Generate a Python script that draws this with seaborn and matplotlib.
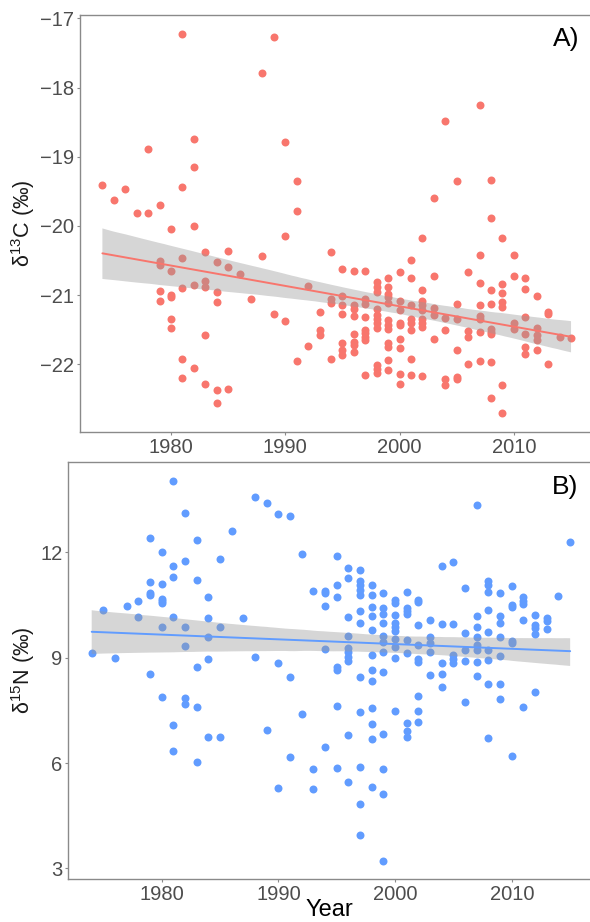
import numpy as np
import pandas as pd
import matplotlib
matplotlib.use("Agg")
import matplotlib.pyplot as plt
from matplotlib.collections import PolyCollection
import seaborn as sns

# ---------------- data ----------------
years = list(range(1974, 2016))

d13c_by_year = [
    [-19.41], [-19.62], [-19.47], [-19.82], [-19.82, -18.89],
    [-19.70, -20.51, -20.57, -20.94, -21.09],
    [-20.04, -20.65, -21.00, -21.03, -21.34, -21.48],
    [-17.22, -19.43, -20.46, -20.90, -21.93, -22.20],
    [-18.75, -19.15, -20.00, -20.86, -22.05],
    [-20.37, -20.79, -20.88, -21.58, -22.29],
    [-20.52, -20.96, -21.10, -22.37, -22.56],
    [-20.36, -20.60, -22.36],
    [-20.69],
    [-21.05],
    [-17.79, -20.43],
    [-17.27, -21.27],
    [-18.78, -20.15, -21.37],
    [-19.35, -19.79, -21.96],
    [-20.87, -21.74],
    [-21.25, -21.50, -21.58],
    [-20.37, -21.06, -21.12, -21.93],
    [-20.62, -21.01, -21.14, -21.28, -21.70, -21.80, -21.87],
    [-20.65, -21.14, -21.20, -21.30, -21.56, -21.68, -21.72, -21.82],
    [-20.65, -21.06, -21.13, -21.32, -21.50, -21.55, -21.60, -21.65, -22.15],
    [-20.81, -20.88, -20.95, -21.20, -21.29, -21.34, -21.41, -21.48, -22.01, -22.07, -22.12],
    [-20.75, -20.88, -20.99, -21.03, -21.11, -21.36, -21.43, -21.49, -21.70, -21.75, -21.94, -22.08],
    [-20.66, -21.09, -21.22, -21.40, -21.43, -21.63, -21.77, -22.14, -22.28],
    [-20.49, -20.76, -21.15, -21.35, -21.41, -21.50, -21.93, -22.15],
    [-20.17, -20.93, -21.08, -21.15, -21.21, -21.35, -21.41, -21.46, -22.17],
    [-19.59, -20.72, -21.19, -21.29, -21.64],
    [-18.48, -21.33, -21.50, -22.22, -22.30],
    [-19.35, -21.13, -21.35, -21.80, -22.18, -22.22],
    [-20.67, -21.52, -21.60, -21.99],
    [-18.25, -20.42, -20.82, -21.15, -21.30, -21.35, -21.54, -21.95],
    [-19.34, -19.89, -20.92, -21.13, -21.49, -21.53, -21.57, -21.97, -22.49],
    [-20.17, -20.84, -20.97, -21.10, -21.17, -22.30, -22.71],
    [-20.42, -20.73, -21.40, -21.49],
    [-20.75, -20.91, -21.31, -21.57, -21.75, -21.85],
    [-21.01, -21.48, -21.58, -21.65, -21.79],
    [-21.24, -21.28, -22.00],
    [-21.60],
    [-21.62],
]

d15n_by_year = [
    [9.14], [10.35], [8.98], [10.48], [10.62, 10.15],
    [12.42, 11.14, 10.84, 10.77, 8.54],
    [12.00, 11.11, 10.67, 10.62, 10.56, 9.87, 7.89],
    [14.04, 11.60, 11.29, 10.17, 7.09, 6.33],
    [13.12, 11.75, 9.88, 9.33, 7.84, 7.68],
    [12.34, 11.22, 8.74, 7.59, 6.02],
    [10.74, 10.14, 9.58, 8.95, 6.75],
    [11.81, 9.88, 6.75],
    [12.60],
    [10.13],
    [13.56, 9.02],
    [13.41, 6.94],
    [13.09, 8.85, 5.30],
    [13.03, 8.46, 6.16],
    [11.96, 7.40],
    [10.91, 5.84, 5.25],
    [10.91, 10.84, 10.48, 9.24, 6.47],
    [11.90, 11.07, 10.74, 8.73, 8.65, 7.63, 5.86],
    [11.55, 11.28, 10.17, 9.62, 9.27, 9.15, 9.03, 8.91, 6.80, 5.47],
    [11.50, 11.17, 11.06, 10.93, 10.79, 10.34, 9.98, 8.44, 7.45, 5.89, 4.83, 3.95],
    [11.07, 10.79, 10.45, 10.20, 9.79, 9.08, 8.66, 8.34, 7.56, 7.10, 6.69, 5.33],
    [10.83, 10.41, 10.24, 10.00, 9.62, 9.46, 9.17, 8.60, 6.82, 5.83, 5.11, 3.22],
    [10.63, 10.55, 10.22, 9.98, 9.87, 9.75, 9.54, 9.29, 9.00, 7.48],
    [10.86, 10.41, 10.34, 10.25, 9.50, 9.12, 7.13, 6.90, 6.75],
    [10.65, 10.58, 9.92, 9.36, 8.97, 8.89, 7.91, 7.49, 7.16],
    [10.07, 9.60, 9.41, 9.15, 8.51],
    [11.62, 9.95, 8.84, 8.54, 8.16],
    [11.71, 9.95, 9.08, 8.97, 8.84],
    [10.98, 9.70, 9.22, 8.91, 7.75],
    [13.35, 10.20, 9.87, 9.60, 9.35, 9.22, 8.89, 8.49],
    [11.19, 11.07, 10.86, 10.35, 9.74, 9.22, 8.94, 8.25, 6.70],
    [10.84, 10.19, 10.00, 9.58, 9.05, 8.25, 7.83],
    [11.04, 10.50, 10.44, 9.48, 9.41, 6.20],
    [10.74, 10.60, 10.52, 10.08, 7.59],
    [10.21, 9.93, 9.84, 9.68, 8.02],
    [10.12, 10.03, 9.81],
    [10.76],
    [12.29],
]

xticks = [1980, 1990, 2000, 2010]
yticks_c = [-22, -21, -20, -19, -18, -17]
yticks_n = [3, 6, 9, 12]
panel_labels = ["A)", "B)"]

df_c = pd.DataFrame({
    "Year": [y for y, vals in zip(years, d13c_by_year) for _ in vals],
    "value": [v for vals in d13c_by_year for v in vals],
})
df_n = pd.DataFrame({
    "Year": [y for y, vals in zip(years, d15n_by_year) for _ in vals],
    "value": [v for vals in d15n_by_year for v in vals],
})

# ---------------- style ----------------
sns.set_theme(style="white")
plt.rcParams["font.family"] = ["Liberation Sans", "DejaVu Sans"]
plt.rcParams["mathtext.fontset"] = "custom"
plt.rcParams["mathtext.rm"] = "Liberation Sans"
plt.rcParams["axes.unicode_minus"] = True

W, H = 590, 922
fig = plt.figure(figsize=(W / 100, H / 100), dpi=100)
fig.patch.set_facecolor("white")


def px_axes(left, top, right, bottom):
    return fig.add_axes([left / W, 1 - bottom / H, (right - left) / W, (bottom - top) / H])


ax1 = px_axes(80, 15, 590, 432)
ax2 = px_axes(68, 462, 590, 879)

specs = [
    (ax1, df_c, "#F8766D", (1972.04, 2016.66), (-22.98, -16.95), yticks_c,
     r"$\mathregular{δ^{13}}$C (‰)", (80, 15, 590, 432)),
    (ax2, df_n, "#619CFF", (1971.97, 2016.7), (2.70, 14.57), yticks_n,
     r"$\mathregular{δ^{15}}$N (‰)", (68, 462, 590, 879)),
]

for i, (ax, df, col, xl, yl, yt, ylab, box) in enumerate(specs):
    sns.scatterplot(data=df, x="Year", y="value", color=col, s=33,
                    linewidth=0, ax=ax, zorder=1)
    sns.regplot(data=df, x="Year", y="value", scatter=False, color=col,
                ax=ax, seed=3, n_boot=2000, line_kws=dict(lw=1.4, zorder=3))
    for coll in ax.collections:
        if isinstance(coll, PolyCollection):
            coll.set_alpha(0.4)
            coll.set_facecolor("#999999")
            coll.set_edgecolor("none")
            coll.set_zorder(2)
    ax.set_xlim(*xl)
    ax.set_ylim(*yl)
    ax.set_xticks(xticks)
    ax.set_yticks(yt)
    ax.set_facecolor("white")
    for side in ["left", "bottom", "top"]:
        ax.spines[side].set_visible(True)
        ax.spines[side].set_color("#8a8a8a")
        ax.spines[side].set_linewidth(1.0)
    ax.spines["right"].set_visible(False)
    ax.tick_params(axis="both", which="major", direction="out", length=2.5,
                   width=0.8, color="#8a8a8a", labelsize=14.5,
                   labelcolor="#4D4D4D", pad=1.5,
                   left=True, bottom=True, top=False, right=False)
    ax.set_ylabel(ylab, fontsize=15.5, color="#1a1a1a")
    l, t, r, b = box
    ax.yaxis.set_label_coords((37 - l) / (r - l), 0.5)
    if i == 0:
        ax.set_xlabel("")
    else:
        ax.set_xlabel("Year", fontsize=17, color="black", va="top")
        ax.xaxis.set_label_coords(0.5, (b - 899) / (b - t))
    ax.text(0.953, 0.942 if i == 0 else 0.939, panel_labels[i],
            transform=ax.transAxes, ha="center", va="center",
            fontsize=19, color="black")

fig.savefig("out.png", dpi=100, facecolor="white")
